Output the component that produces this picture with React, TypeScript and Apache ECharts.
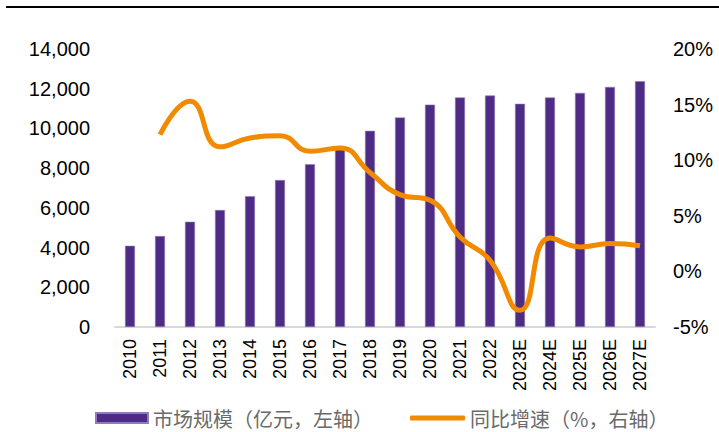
import React, { useEffect, useRef } from "react";
import * as echarts from "echarts";

const categories = ["2010","2011","2012","2013","2014","2015","2016","2017","2018","2019","2020","2021","2022","2023E","2024E","2025E","2026E","2027E"];
const marketSize = [4090,4580,5300,5890,6590,7400,8200,9110,9880,10550,11200,11560,11660,11240,11560,11790,12090,12380];
const growth: (number | null)[] = [null,12.3,15.3,11.2,12.0,12.2,10.8,11.1,8.9,6.9,6.4,3.1,1.0,-3.5,3.0,2.2,2.5,2.3];
const leftTicks = { min: 0, max: 14000, interval: 2000 };
const rightTicks = { min: -5, max: 20, interval: 5 };
const barName = "市场规模（亿元，左轴）";
const lineName = "同比增速（%，右轴）";

export default function App() {
  const ref = useRef<HTMLDivElement>(null);
  useEffect(() => {
    if (!ref.current) return;
    const chart = echarts.init(ref.current, null, { renderer: "svg" });
    const axisFont = { fontFamily: "Liberation Sans, Arial, sans-serif", color: "#000" };
    const legendText = { fontFamily: "Noto Sans CJK SC", fontSize: 20, lineHeight: 22, color: "#6a6a6a" };
    chart.setOption({
      animation: false,
      backgroundColor: "#fff",
      grid: { left: 115, right: 64, top: 49, bottom: 105, containLabel: false },
      graphic: [
        { type: "line", shape: { x1: 6, y1: 7, x2: 719, y2: 7 }, style: { stroke: "#000", lineWidth: 2 } },
      ],
      legend: [
        {
          left: 95, top: 407, padding: 0,
          itemWidth: 52, itemHeight: 10, itemGap: 5,
          data: [{ name: barName, icon: "rect" }],
          textStyle: legendText,
        },
        {
          left: 410, top: 407, padding: 0,
          itemWidth: 55, itemHeight: 5,
          data: [{ name: lineName, icon: "roundRect" }],
          textStyle: legendText,
        },
      ],
      xAxis: {
        type: "category",
        data: categories,
        axisLine: { lineStyle: { color: "#d9d9d9", width: 2 } },
        axisTick: { show: false },
        axisLabel: { rotate: 90, fontSize: 18, margin: 12, ...axisFont },
      },
      yAxis: [
        {
          type: "value", ...leftTicks,
          splitLine: { show: false },
          axisLine: { show: false }, axisTick: { show: false },
          axisLabel: {
            fontSize: 20, margin: 25, ...axisFont,
            formatter: (v: number) => v.toLocaleString("en-US"),
          },
        },
        {
          type: "value", ...rightTicks,
          splitLine: { show: false },
          axisLine: { show: false }, axisTick: { show: false },
          axisLabel: { fontSize: 20, margin: 18, ...axisFont, formatter: (v: number) => v + "%" },
        },
      ],
      series: [
        {
          name: barName, type: "bar", data: marketSize, barWidth: 10,
          itemStyle: { color: "#4E2B84", borderColor: "#8F7DB8", borderWidth: 0.6 },
        },
        {
          name: lineName, type: "line", yAxisIndex: 1, data: growth, smooth: 0.5,
          showSymbol: false, symbol: "none", connectNulls: false,
          lineStyle: { color: "#F28A00", width: 5 },
          itemStyle: { color: "#F28A00" },
        },
      ],
    });
    return () => chart.dispose();
  }, []);
  return <div ref={ref} style={{ position: "fixed", left: 0, top: 0, width: 719, height: 432 }} />;
}
